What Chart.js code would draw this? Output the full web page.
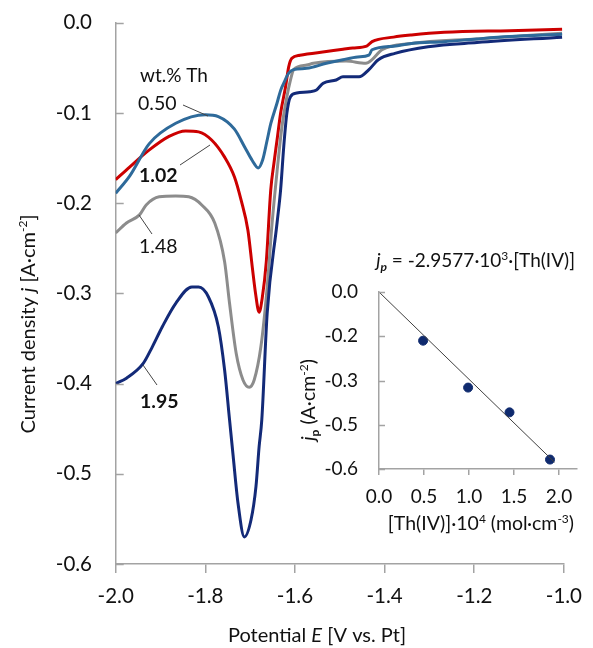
<!DOCTYPE html>
<html><head><meta charset="utf-8">
<script src="https://cdn.jsdelivr.net/npm/chart.js@4.4.0/dist/chart.umd.min.js"></script>
<style>
html,body{margin:0;padding:0;background:#fff;}
#wrap{position:relative;width:593px;height:648px;overflow:hidden;}
#main{position:absolute;left:0;top:0;}
#inset{position:absolute;left:290px;top:230px;}
</style></head><body>
<div id="wrap"><canvas id="main" width="593" height="648"></canvas><canvas id="inset" width="303" height="320"></canvas></div>
<script>
// ---------- DATA ----------
const xTickStep = 0.2;
const yTickStep = 0.1;
const seriesLabels = ['0.50', '1.02', '1.48', '1.95'];

const e050 = [-2.000,-1.969,-1.925,-1.866,-1.800,-1.771,-1.735,-1.712,-1.695,-1.682,-1.672,-1.662,-1.654,-1.640,-1.632,-1.625,-1.614,-1.603,-1.574,-1.530,-1.493,-1.460,-1.435,-1.428,-1.380,-1.340,-1.267,-1.194,-1.121,-1.004];
const j050 = [-0.189,-0.170,-0.134,-0.1115,-0.102,-0.104,-0.118,-0.138,-0.153,-0.161,-0.152,-0.130,-0.112,-0.089,-0.075,-0.067,-0.056,-0.052,-0.0506,-0.045,-0.041,-0.038,-0.036,-0.030,-0.026,-0.023,-0.021,-0.018,-0.0154,-0.0129];

const e102 = [-2.000,-1.969,-1.925,-1.881,-1.844,-1.815,-1.786,-1.757,-1.735,-1.720,-1.705,-1.695,-1.688,-1.680,-1.673,-1.664,-1.654,-1.647,-1.640,-1.632,-1.621,-1.614,-1.607,-1.589,-1.530,-1.493,-1.471,-1.440,-1.428,-1.380,-1.340,-1.267,-1.121,-1.004];
const j102 = [-0.174,-0.160,-0.141,-0.126,-0.120,-0.121,-0.130,-0.149,-0.171,-0.197,-0.230,-0.272,-0.300,-0.321,-0.305,-0.265,-0.185,-0.156,-0.130,-0.100,-0.071,-0.049,-0.0395,-0.036,-0.032,-0.0295,-0.028,-0.026,-0.021,-0.016,-0.0136,-0.0107,-0.0088,-0.0073];

const e148 = [-2.000,-1.976,-1.947,-1.932,-1.903,-1.866,-1.837,-1.808,-1.779,-1.757,-1.746,-1.731,-1.716,-1.702,-1.691,-1.676,-1.662,-1.651,-1.640,-1.629,-1.618,-1.610,-1.603,-1.574,-1.559,-1.486,-1.442,-1.428,-1.406,-1.340,-1.194,-1.004];
const j148 = [-0.233,-0.222,-0.213,-0.202,-0.193,-0.192,-0.193,-0.202,-0.222,-0.265,-0.311,-0.367,-0.396,-0.404,-0.396,-0.359,-0.293,-0.222,-0.165,-0.115,-0.082,-0.0635,-0.052,-0.047,-0.045,-0.0425,-0.045,-0.041,-0.030,-0.023,-0.018,-0.0117];

const e195 = [-2.000,-1.976,-1.939,-1.918,-1.896,-1.866,-1.830,-1.815,-1.793,-1.771,-1.757,-1.746,-1.738,-1.727,-1.713,-1.698,-1.687,-1.680,-1.674,-1.662,-1.640,-1.632,-1.625,-1.618,-1.610,-1.596,-1.567,-1.552,-1.537,-1.508,-1.493,-1.457,-1.435,-1.414,-1.377,-1.303,-1.194,-1.004];
const j195 = [-0.400,-0.394,-0.378,-0.359,-0.337,-0.311,-0.293,-0.293,-0.304,-0.337,-0.385,-0.440,-0.480,-0.533,-0.570,-0.551,-0.514,-0.470,-0.440,-0.322,-0.222,-0.185,-0.137,-0.100,-0.082,-0.078,-0.0765,-0.0746,-0.067,-0.0635,-0.060,-0.060,-0.052,-0.041,-0.034,-0.0266,-0.022,-0.016];

// inset
const insetConc = [0.49, 0.99, 1.45, 1.90];
const insetPeak = [-0.165, -0.324, -0.408, -0.568];
const fitX = [0, 1.95];
const fitY = [0, -0.577];
const insetXTickStep = 0.5;
const insetYTickValues = [0, -0.15, -0.3, -0.45, -0.6];
const insetYTickLabels = ['0.0', '-0.2', '-0.3', '-0.5', '-0.6'];

// ---------- STYLE ----------
const FONT = 'Lato';
const AX = '#a3a3a3';
const TXT = '#111111';
const COLORS = ['#2E6A9A', '#CC0000', '#8C8C8C', '#132A78'];

function zip(xs, ys) { return xs.map((x, i) => ({x: x, y: ys[i]})); }
function fmt1(v) { if (Math.abs(v) < 1e-9) v = 0; return v.toFixed(1); }

function drawRich(ctx, parts, x, y, size, align) {
  const fonts = parts.map(p => {
    const f = p[1] || '';
    const small = f.includes('sup') || f.includes('sub');
    const s = small ? Math.round(size * 0.62) : size;
    return (f.includes('i') ? 'italic ' : '') + (f.includes('b') ? 'bold ' : '') + s + 'px ' + FONT;
  });
  let total = 0;
  const widths = parts.map((p, k) => { ctx.font = fonts[k]; const w = ctx.measureText(p[0]).width; total += w; return w; });
  let cx = align === 'center' ? x - total / 2 : align === 'right' ? x - total : x;
  parts.forEach((p, k) => {
    const f = p[1] || '';
    let dy = 0;
    if (f.includes('sup')) dy = -size * 0.38;
    if (f.includes('sub')) dy = size * 0.22;
    ctx.font = fonts[k];
    ctx.textAlign = 'left';
    ctx.fillText(p[0], cx, y + dy);
    cx += widths[k];
  });
  return total;
}

const mainAnnot = {
  id: 'mainAnnot',
  afterDraw(chart) {
    const ctx = chart.ctx;
    const ca = chart.chartArea;
    const ys = chart.scales.y;
    ctx.save();
    ctx.strokeStyle = AX; ctx.lineWidth = 1.5;
    ys.ticks.forEach(t => {
      const py = Math.round(ys.getPixelForValue(t.value)) + 0.5;
      ctx.beginPath(); ctx.moveTo(ca.left, py); ctx.lineTo(ca.left + 8, py); ctx.stroke();
    });
    ctx.fillStyle = TXT; ctx.textBaseline = 'alphabetic';
    drawRich(ctx, [['Potential '], ['E', 'i'], [' [V vs. Pt]']], 317, 642, 20, 'center');
    ctx.save();
    ctx.translate(35, 324); ctx.rotate(-Math.PI / 2);
    drawRich(ctx, [['Current density '], ['j', 'i'], [' [A·cm'], ['-2', 'sup'], [']']], 0, 0, 20, 'center');
    ctx.restore();
    drawRich(ctx, [['wt.% Th']], 140, 82, 19, 'left');
    drawRich(ctx, [[seriesLabels[0]]], 138, 110, 19.5, 'left');
    drawRich(ctx, [[seriesLabels[1], 'b']], 139, 182, 19.5, 'left');
    drawRich(ctx, [[seriesLabels[2]]], 139, 253, 19.5, 'left');
    drawRich(ctx, [[seriesLabels[3], 'b']], 140, 408, 19.5, 'left');
    ctx.strokeStyle = '#444'; ctx.lineWidth = 1;
    [[183,105,208,116],[180,165,210,145],[152,234,139,215],[157,385,143,365]].forEach(l => {
      ctx.beginPath(); ctx.moveTo(l[0], l[1]); ctx.lineTo(l[2], l[3]); ctx.stroke();
    });
    ctx.restore();
  }
};

const insetAnnot = {
  id: 'insetAnnot',
  afterDraw(chart) {
    const ctx = chart.ctx;
    const ca = chart.chartArea;
    const ys = chart.scales.y;
    ctx.save();
    ctx.strokeStyle = AX; ctx.lineWidth = 1.5;
    ys.ticks.forEach(t => {
      const py = Math.round(ys.getPixelForValue(t.value)) + 0.5;
      ctx.beginPath(); ctx.moveTo(ca.left, py); ctx.lineTo(ca.left + 6, py); ctx.stroke();
    });
    ctx.fillStyle = TXT; ctx.textBaseline = 'alphabetic';
    drawRich(ctx, [['j', 'i'], ['p', 'i sub'], [' = -2.9577·10'], ['3', 'sup'], ['·[Th(IV)]']], 285, 37, 19, 'right');
    drawRich(ctx, [['[Th(IV)]·10'], ['4', 'sup'], [' (mol·cm'], ['-3', 'sup'], [')']], 284, 300, 19.5, 'right');
    ctx.save();
    ctx.translate(25, 170); ctx.rotate(-Math.PI / 2);
    drawRich(ctx, [['j', 'i'], ['p', 'sub'], [' (A·cm'], ['-2', 'sup'], [')']], 0, 0, 19.5, 'center');
    ctx.restore();
    ctx.restore();
  }
};

const tickFont = {family: FONT, size: 20.5};
const insetTickFont = {family: FONT, size: 19};

function mk(xs, ys, color) {
  return {data: zip(xs, ys), borderColor: color, backgroundColor: color, borderWidth: 3,
          pointRadius: 0, fill: false, cubicInterpolationMode: 'monotone'};
}

new Chart(document.getElementById('main'), {
  type: 'line',
  data: {datasets: [
    mk(e195, j195, COLORS[3]),
    mk(e050, j050, COLORS[0]),
    mk(e148, j148, COLORS[2]),
    mk(e102, j102, COLORS[1])
  ]},
  options: {
    responsive: false, animation: false, devicePixelRatio: 1,
    layout: {padding: {left: 0, top: 22.7, right: 21.3, bottom: 0}},
    plugins: {legend: {display: false}, tooltip: {enabled: false}},
    scales: {
      x: {type: 'linear', min: -2, max: -1,
        afterFit(s) { s.height = 84; },
        ticks: {stepSize: xTickStep, callback: fmt1, font: tickFont, color: TXT, padding: 11, maxRotation: 0, autoSkip: false},
        grid: {display: true, drawOnChartArea: false, drawTicks: true, tickLength: 9, color: AX, lineWidth: 1.5},
        border: {display: true, color: AX, width: 1.5}},
      y: {type: 'linear', min: -0.6, max: 0,
        afterFit(s) { s.width = 115.7; s.paddingTop = 0; s.paddingBottom = 0; },
        ticks: {stepSize: yTickStep, callback: fmt1, font: tickFont, color: TXT, padding: 23.7},
        grid: {display: false, drawTicks: false},
        border: {display: true, color: AX, width: 1.5}}
    }
  },
  plugins: [mainAnnot]
});

new Chart(document.getElementById('inset'), {
  type: 'scatter',
  data: {datasets: [
    {type: 'line', data: zip(fitX, fitY), borderColor: '#404040', borderWidth: 1, pointRadius: 0, fill: false},
    {type: 'scatter', data: zip(insetConc, insetPeak), backgroundColor: '#0F2A6E', borderColor: '#0F2A6E', pointRadius: 4.5}
  ]},
  options: {
    responsive: false, animation: false, devicePixelRatio: 1,
    layout: {padding: {left: 0, top: 62, right: 16, bottom: 0}},
    plugins: {legend: {display: false}, tooltip: {enabled: false}},
    scales: {
      x: {type: 'linear', min: 0, max: 2.2,
        afterFit(s) { s.height = 81; },
        ticks: {stepSize: insetXTickStep, includeBounds: false, callback: fmt1, font: insetTickFont, color: TXT, padding: 10, maxRotation: 0, autoSkip: false},
        grid: {display: true, drawOnChartArea: false, drawTicks: true, tickLength: 6, color: AX, lineWidth: 1.5},
        border: {display: true, color: AX, width: 1.5}},
      y: {type: 'linear', min: -0.6, max: 0,
        afterFit(s) { s.width = 89; s.paddingTop = 0; s.paddingBottom = 0; },
        afterBuildTicks(s) { s.ticks = insetYTickValues.map(v => ({value: v})); },
        ticks: {callback: (v) => { const k = insetYTickValues.findIndex(t => Math.abs(t - v) < 1e-6); return k >= 0 ? insetYTickLabels[k] : ''; },
                font: insetTickFont, color: TXT, padding: 21},
        grid: {display: false, drawTicks: false},
        border: {display: true, color: AX, width: 1.5}}
    }
  },
  plugins: [insetAnnot]
});
</script>
</body></html>
